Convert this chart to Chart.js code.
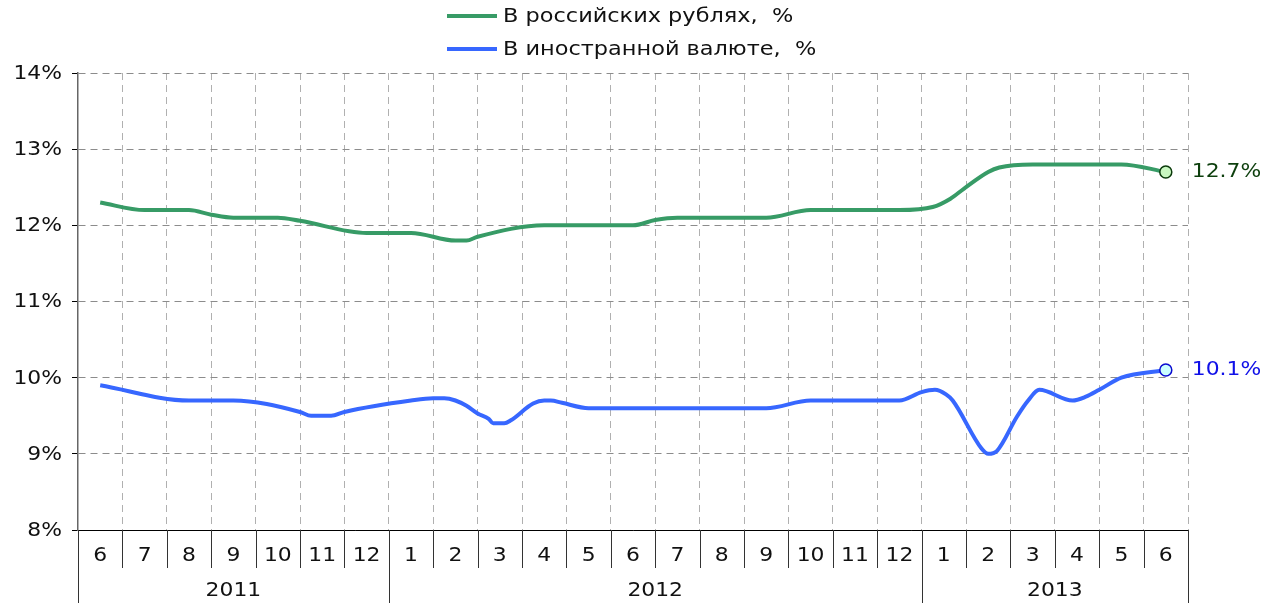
<!DOCTYPE html>
<html>
<head>
<meta charset="utf-8">
<script src="https://cdn.jsdelivr.net/npm/chart.js@4.4.0/dist/chart.umd.min.js"></script>
<style>
  html, body { margin: 0; padding: 0; background: #fff; overflow: hidden; }
  #wrap { width: 1279px; height: 603px; position: relative; }
</style>
</head>
<body>
<div id="wrap"><canvas id="chart"></canvas></div>
<script>
// months along the axis, grouped by year
var months = ['6','7','8','9','10','11','12','1','2','3','4','5','6','7','8','9','10','11','12','1','2','3','4','5','6'];
var yearLabels = ['2011', '2012', '2013'];
var yearSpans = [7, 12, 6];

// y ticks, in %
var yTicks = [8, 9, 10, 11, 12, 13, 14];

// rouble deposits rate (x = month index, 0 = 6/2011)
var rubX = [0, 1, 2, 2.5, 3, 4, 4.5, 6, 7, 8, 8.25, 8.5, 10, 12, 12.5, 13, 15, 16, 18, 18.75, 19.15, 19.45, 20, 20.25, 21, 23, 24];
var rubY = [12.3, 12.2, 12.2, 12.14, 12.1, 12.1, 12.06, 11.9, 11.9, 11.8, 11.8, 11.85, 12.0, 12.0, 12.07, 12.1, 12.1, 12.2, 12.2, 12.24, 12.35, 12.48, 12.7, 12.76, 12.8, 12.8, 12.7];

// foreign currency deposits rate
var fxX = [0, 2, 3, 4.5, 4.75, 5.2, 5.5, 7, 7.5, 7.75, 8, 8.25, 8.5, 8.75, 8.85, 9.1, 9.25, 9.75, 10, 10.15, 10.4, 11, 15, 16, 18, 18.5, 18.8, 19.05, 19.2, 19.85, 20, 20.2, 20.65, 20.9, 21.15, 21.9, 22.2, 22.5, 23, 24];
var fxY = [9.9, 9.7, 9.7, 9.55, 9.5, 9.5, 9.55, 9.7, 9.73, 9.73, 9.7, 9.63, 9.53, 9.46, 9.4, 9.4, 9.44, 9.66, 9.7, 9.7, 9.67, 9.6, 9.6, 9.7, 9.7, 9.81, 9.84, 9.78, 9.7, 9.07, 9.0, 9.04, 9.49, 9.7, 9.84, 9.7, 9.75, 9.84, 10.0, 10.1];

var FONT = '"DejaVu Sans", Verdana, sans-serif';
var STRETCH = 1.15; // the original lettering is a bit wide

function toPoints(xs, ys) {
    return xs.map(function (x, i) { return { x: x, y: ys[i] }; });
}

function lastOnly(val) {
    return function (c) { return c.dataIndex === c.dataset.data.length - 1 ? val : 0; };
}

function wideText(ctx, text, x, y, align, color, size) {
    ctx.save();
    ctx.translate(x, y);
    ctx.scale(STRETCH, 1);
    ctx.font = size + 'px ' + FONT;
    ctx.fillStyle = color;
    ctx.textAlign = align;
    ctx.textBaseline = 'middle';
    ctx.fillText(text, 0, 0);
    ctx.restore();
}

// two stacked legend rows at the top
var stackedLegend = {
    id: 'stackedLegend',
    afterDraw: function (chart) {
        var ctx = chart.ctx;
        chart.data.datasets.forEach(function (ds, i) {
            var y = 16 + i * 33;
            ctx.save();
            ctx.strokeStyle = ds.borderColor;
            ctx.lineWidth = 4;
            ctx.beginPath();
            ctx.moveTo(447, y);
            ctx.lineTo(497, y);
            ctx.stroke();
            ctx.restore();
            wideText(ctx, ds.label, 503, y + 1, 'left', '#111', 19.5);
        });
    }
};

// value label next to the last point of each line
var endLabels = {
    id: 'endLabels',
    afterDatasetsDraw: function (chart) {
        chart.data.datasets.forEach(function (ds, i) {
            var meta = chart.getDatasetMeta(i);
            var pt = meta.data[meta.data.length - 1];
            var v = ds.data[ds.data.length - 1].y;
            wideText(chart.ctx, v.toFixed(1) + '%', pt.x + 26, pt.y, 'left', ds.labelColor, 19);
        });
    }
};

// tick labels, month separators and the year row under the axis
var axisText = {
    id: 'axisText',
    afterDraw: function (chart) {
        var ctx = chart.ctx;
        var area = chart.chartArea;
        var xs = chart.scales.x;
        var ys = chart.scales.y;
        var w = (area.right - area.left) / months.length;
        var bottom = chart.height;

        yTicks.forEach(function (v) {
            wideText(ctx, v + '%', area.left - 16, ys.getPixelForValue(v) + 1, 'right', '#111', 19);
        });
        months.forEach(function (m, i) {
            wideText(ctx, m, xs.getPixelForValue(i), area.bottom + 26, 'center', '#111', 19);
        });

        ctx.save();
        ctx.strokeStyle = '#333';
        ctx.lineWidth = 1;
        for (var i = 0; i <= months.length; i++) {
            var x = Math.round(area.left + i * w) + 0.5;
            ctx.beginPath();
            ctx.moveTo(x, area.bottom);
            ctx.lineTo(x, area.bottom + 38);
            ctx.stroke();
        }
        var start = 0;
        var edges = [0];
        yearSpans.forEach(function (n, j) {
            var x0 = area.left + start * w;
            var x1 = area.left + (start + n) * w;
            wideText(ctx, yearLabels[j], (x0 + x1) / 2, area.bottom + 61, 'center', '#111', 19);
            start += n;
            edges.push(start);
        });
        edges.forEach(function (e) {
            var x = Math.round(area.left + e * w) + 0.5;
            ctx.beginPath();
            ctx.moveTo(x, area.bottom);
            ctx.lineTo(x, bottom);
            ctx.stroke();
        });
        ctx.restore();
    }
};

Chart.defaults.font.family = FONT;
Chart.defaults.font.size = 19;
Chart.defaults.color = '#111';

new Chart(document.getElementById('chart'), {
    type: 'line',
    data: {
        datasets: [{
            label: 'В российских рублях,  %',
            data: toPoints(rubX, rubY),
            xAxisID: 'xData',
            borderColor: '#379b66',
            labelColor: '#0d3f0d',
            borderWidth: 4,
            cubicInterpolationMode: 'monotone',
            pointRadius: lastOnly(6),
            pointBackgroundColor: '#c8f7c0',
            pointBorderColor: '#0b3a0b',
            pointBorderWidth: 1.5
        }, {
            label: 'В иностранной валюте,  %',
            data: toPoints(fxX, fxY),
            xAxisID: 'xData',
            borderColor: '#3767ff',
            labelColor: '#1010e8',
            borderWidth: 4,
            cubicInterpolationMode: 'monotone',
            pointRadius: lastOnly(6),
            pointBackgroundColor: '#ccffff',
            pointBorderColor: '#0a0ad0',
            pointBorderWidth: 1.5
        }]
    },
    options: {
        responsive: true,
        maintainAspectRatio: false,
        animation: false,
        events: [],
        layout: { padding: { top: 73, right: 91, left: 0, bottom: 0 } },
        plugins: {
            legend: { display: false },
            tooltip: { enabled: false }
        },
        scales: {
            x: {
                type: 'category',
                labels: months,
                offset: true,
                afterFit: function (s) { s.height = 73; },
                grid: {
                    offset: true,
                    drawTicks: false,
                    color: function (c) { return c.index === 0 ? 'rgba(0,0,0,0)' : '#b0b0b0'; }
                },
                border: { display: true, color: '#000', width: 1, dash: [7, 5] },
                ticks: { display: false, autoSkip: false }
            },
            xData: {
                type: 'linear',
                display: false,
                min: -0.5,
                max: 24.5
            },
            y: {
                min: 8,
                max: 14,
                afterFit: function (s) { s.width = 78; },
                afterBuildTicks: function (s) {
                    s.ticks = yTicks.map(function (v) { return { value: v }; });
                },
                grid: { color: '#8c8c8c', tickLength: 6, tickColor: '#000', tickBorderDash: [] },
                border: { display: true, color: '#666', width: 1.5, dash: [7, 5] },
                ticks: { display: false }
            }
        }
    },
    plugins: [stackedLegend, endLabels, axisText]
});
</script>
</body>
</html>
